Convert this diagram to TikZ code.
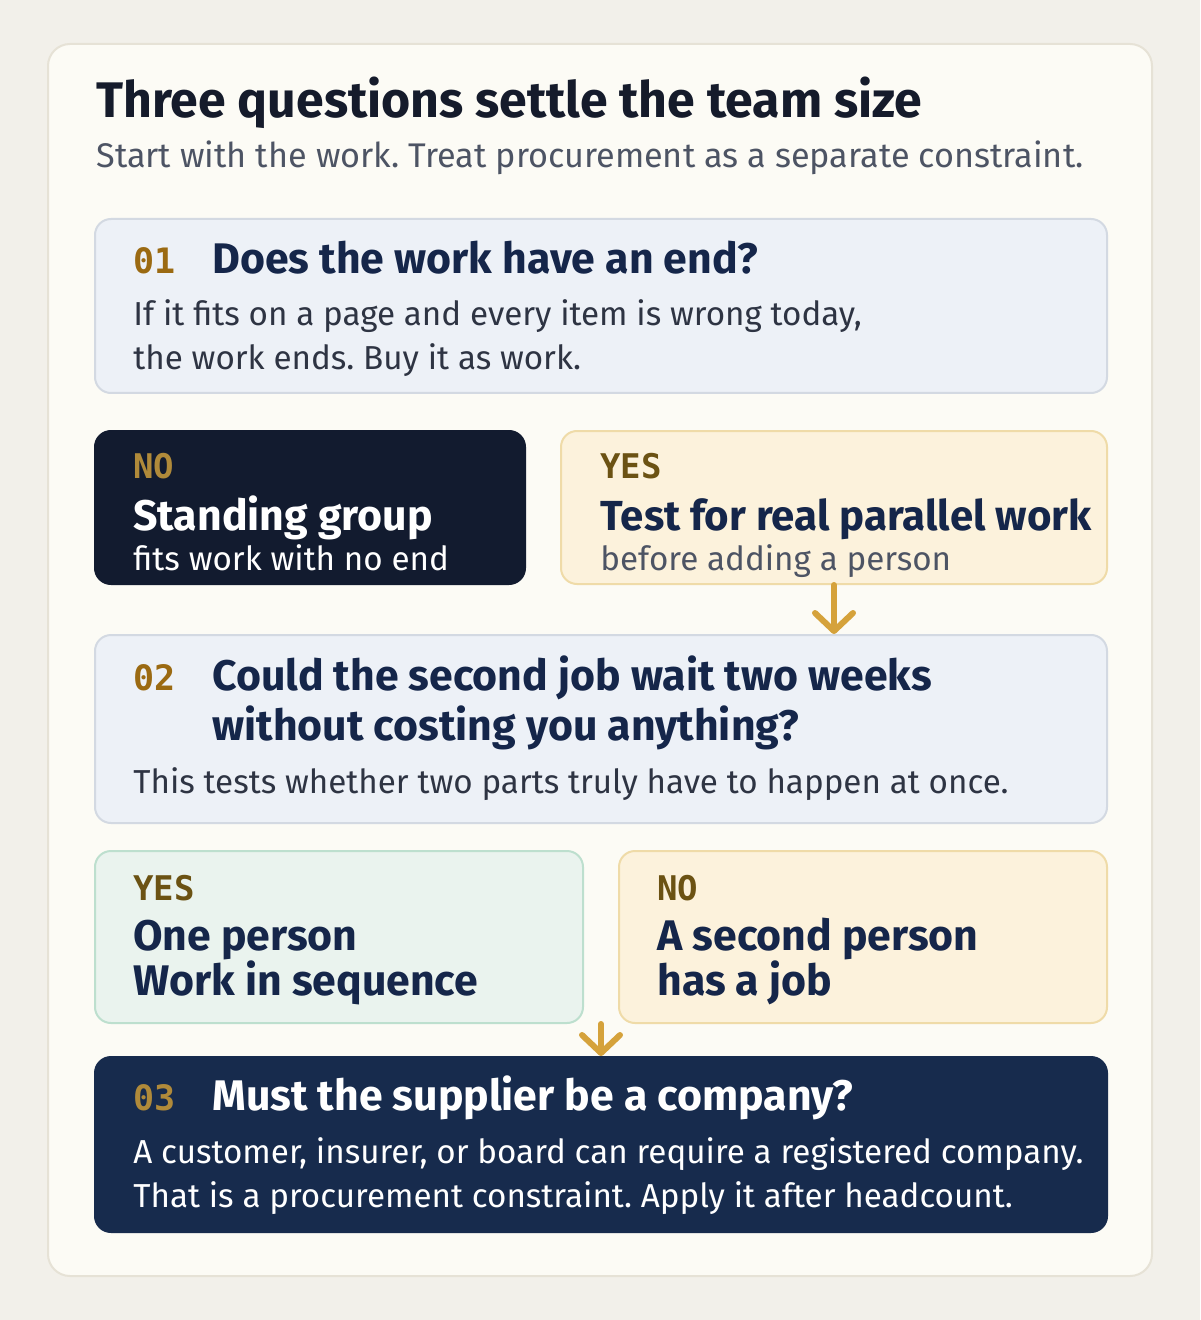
\documentclass[tikz,border=0pt]{standalone}
\usepackage{fontspec}
\setmainfont{Fira Sans}
\setmonofont{DejaVu Sans Mono}
\usetikzlibrary{arrows.meta,positioning}
\frenchspacing

\definecolor{pagebg}{HTML}{F2F0EA}
\definecolor{cardfill}{HTML}{FCFBF5}
\definecolor{cardline}{HTML}{E6E2D6}
\definecolor{titleink}{HTML}{151B2B}
\definecolor{subink}{HTML}{4D5464}
\definecolor{qfill}{HTML}{EDF1F7}
\definecolor{qline}{HTML}{D3D9E2}
\definecolor{navy}{HTML}{15264A}
\definecolor{bodyink}{HTML}{2E3443}
\definecolor{numgold}{HTML}{9B6A12}
\definecolor{numlight}{HTML}{B08A3A}
\definecolor{yesink}{HTML}{6B5213}
\definecolor{darkfill}{HTML}{121B2F}
\definecolor{navyfill}{HTML}{172B4D}
\definecolor{creamfill}{HTML}{FCF2DC}
\definecolor{creamline}{HTML}{EFDBA8}
\definecolor{greenfill}{HTML}{EAF3EE}
\definecolor{greenline}{HTML}{BDDFCE}
\definecolor{arrowgold}{HTML}{D5A23B}

\tikzset{
  box/.style={rounded corners=8pt, line width=1pt, anchor=north west, inner sep=0pt},
  qbox/.style={box, fill=qfill, draw=qline},
  darkbox/.style={box, fill=darkfill, draw=darkfill},
  navybox/.style={box, fill=navyfill, draw=navyfill},
  creambox/.style={box, fill=creamfill, draw=creamline},
  greenbox/.style={box, fill=greenfill, draw=greenline},
  txt/.style={anchor=base west, inner sep=0pt},
  num/.style={txt, font=\ttfamily\bfseries\fontsize{17.5pt}{20pt}\selectfont, text=numgold},
  tag/.style={txt, font=\ttfamily\bfseries\fontsize{17pt}{20pt}\selectfont, text=yesink},
  head/.style={txt, font=\bfseries\fontsize{21.4pt}{24pt}\selectfont, text=navy},
  body/.style={txt, font=\fontsize{16.6pt}{19pt}\selectfont, text=bodyink},
  arr/.style={arrowgold, line width=3pt, line cap=round,
    -{Straight Barb[length=9pt, width=19pt, line cap=round, line join=round]}},
}

\begin{document}
\begin{tikzpicture}[x=0.5pt, y=-0.5pt]
  \fill[pagebg] (0,0) rectangle (1200,1320);
  \useasboundingbox (0,0) rectangle (1200,1320);
  \draw[cardfill, draw=cardline, line width=1pt, rounded corners=11pt, fill=cardfill]
    (48,44) rectangle (1152,1276);

  % title
  \node[txt, font=\bfseries\fontsize{25pt}{28pt}\selectfont, text=titleink] (title) at (96,118)
    {Three questions settle the team size};
  \node[txt, font=\fontsize{17.1pt}{20pt}\selectfont, text=subink] (subtitle) at (96,168)
    {Start with the work. Treat procurement as a separate constraint.};

  % question 1
  \node[qbox, minimum width=506pt, minimum height=87pt] (q1) at (94,218) {};
  \node[num] (q1num) at ([shift={(39,56)}]q1.north west) {01};
  \node[head] (q1head) at ([shift={(118,56)}]q1.north west) {Does the work have an end?};
  \node[body] (q1bodya) at ([shift={(39,108)}]q1.north west)
    {If it fits on a page and every item is wrong today,};
  \node[body] (q1bodyb) at ([shift={(39,152)}]q1.north west) {the work ends. Buy it as work.};

  % answers to 1
  \node[darkbox, minimum width=215pt, minimum height=76.5pt] (no1) at (94,430) {};
  \node[tag, text=numlight] (no1tag) at ([shift={(39,48)}]no1.north west) {NO};
  \node[head, text=white] (no1head) at ([shift={(39,100)}]no1.north west) {Standing group};
  \node[body, text=white] (no1body) at ([shift={(39,140)}]no1.north west) {fits work with no end};

  \node[creambox, minimum width=273pt, minimum height=76.5pt] (yes1) at (560,430) {};
  \node[tag] (yes1tag) at ([shift={(40,48)}]yes1.north west) {YES};
  \node[head, font=\bfseries\fontsize{21pt}{24pt}\selectfont] (yes1head)
    at ([shift={(40,100)}]yes1.north west) {Test for real parallel work};
  \node[body, text=subink] (yes1body) at ([shift={(40,140)}]yes1.north west) {before adding a person};

  % question 2
  \node[qbox, minimum width=506pt, minimum height=94pt] (q2) at (94,634) {};
  \node[num] (q2num) at ([shift={(39,56)}]q2.north west) {02};
  \node[head] (q2heada) at ([shift={(118,56)}]q2.north west) {Could the second job wait two weeks};
  \node[head] (q2headb) at ([shift={(118,106)}]q2.north west) {without costing you anything?};
  \node[body] (q2body) at ([shift={(39,159)}]q2.north west)
    {This tests whether two parts truly have to happen at once.};

  % answers to 2
  \node[greenbox, minimum width=244pt, minimum height=86pt] (yes2) at (94,850) {};
  \node[tag] (yes2tag) at ([shift={(39,50)}]yes2.north west) {YES};
  \node[head] (yes2heada) at ([shift={(39,100)}]yes2.north west) {One person};
  \node[head] (yes2headb) at ([shift={(39,145)}]yes2.north west) {Work in sequence};

  \node[creambox, minimum width=244pt, minimum height=86pt] (no2) at (618,850) {};
  \node[tag] (no2tag) at ([shift={(39,50)}]no2.north west) {NO};
  \node[head] (no2heada) at ([shift={(39,100)}]no2.north west) {A second person};
  \node[head] (no2headb) at ([shift={(39,145)}]no2.north west) {has a job};

  % question 3
  \node[navybox, minimum width=506pt, minimum height=87.5pt] (q3) at (94,1056) {};
  \node[num, text=numlight] (q3num) at ([shift={(39,54)}]q3.north west) {03};
  \node[head, text=white] (q3head) at ([shift={(118,54)}]q3.north west) {Must the supplier be a company?};
  \node[body, text=white] (q3bodya) at ([shift={(39,107)}]q3.north west)
    {A customer, insurer, or board can require a registered company.};
  \node[body, text=white] (q3bodyb) at ([shift={(39,151)}]q3.north west)
    {That is a procurement constraint. Apply it after headcount.};

  % connectors
  \draw[arr] (yes1.south) -- (q2.north -| yes1.south);
  \draw[arr] (yes2.south east -| q3.north) -- (q3.north);
\end{tikzpicture}
\end{document}
